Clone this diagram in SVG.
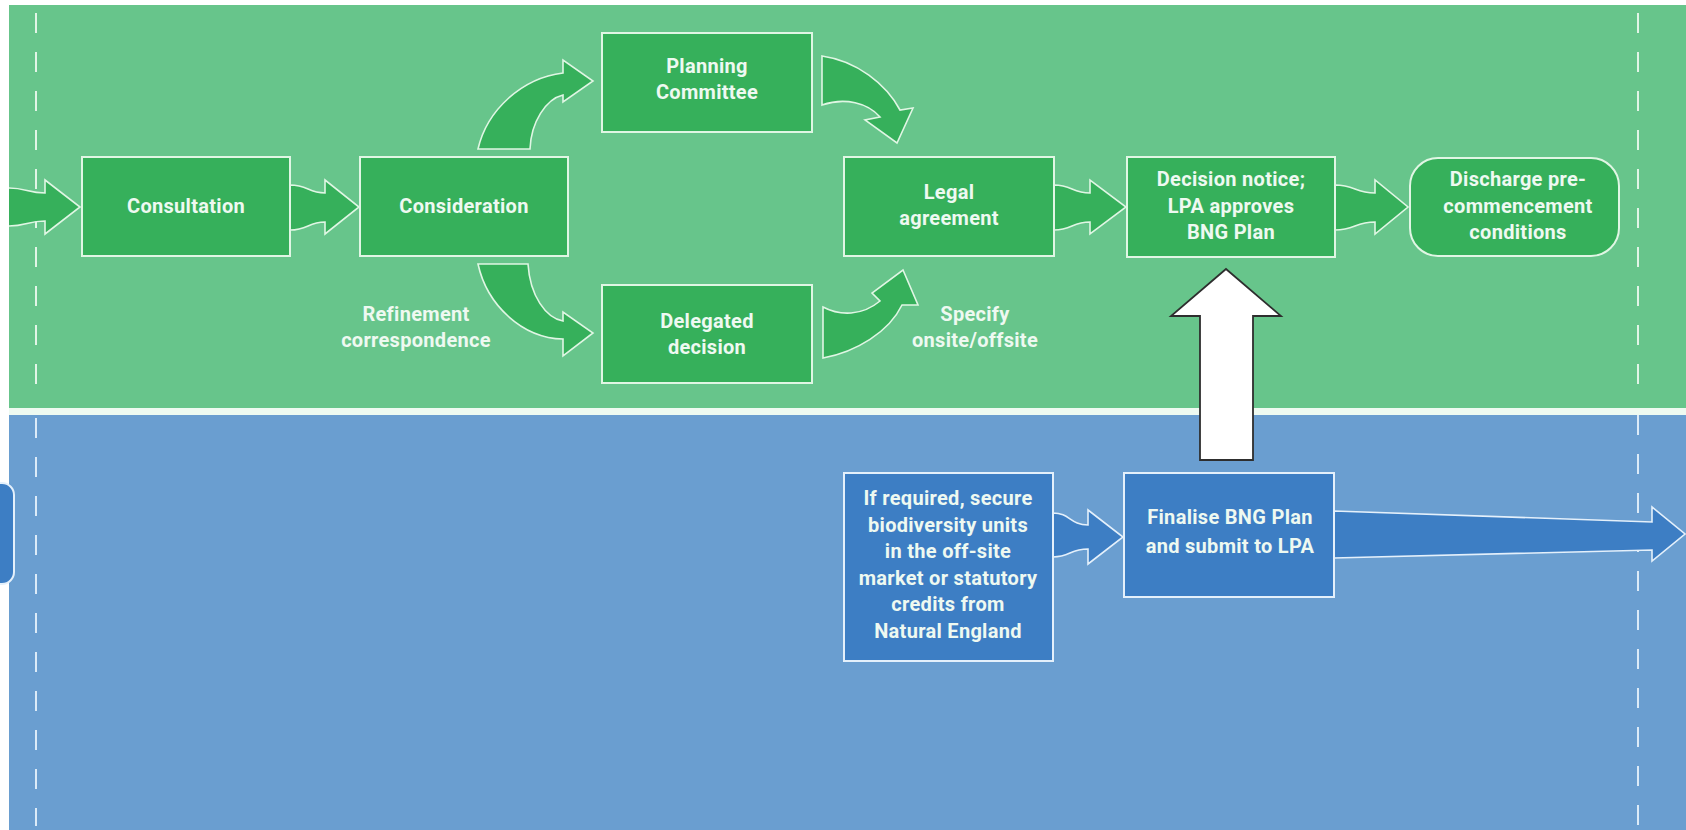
<svg xmlns="http://www.w3.org/2000/svg" width="1686" height="830" viewBox="0 0 1686 830">
  <style>
    .lane-g { fill: #67c58b; }
    .lane-b { fill: #6a9ed0; }
    .divider-g { stroke: #e2f5e7; stroke-width: 2; stroke-dasharray: 20 19; fill: none; }
    .divider-b { stroke: #dcebf8; stroke-width: 2; stroke-dasharray: 20 19; fill: none; }
    .box-g { fill: #36b05b; stroke: #e0f6e4; stroke-width: 2; }
    .box-b { fill: #3d7ec4; stroke: #e4f0fb; stroke-width: 2; }
    .arr-g { fill: #36b05b; stroke: #e0f6e4; stroke-width: 1.6; stroke-linejoin: miter; }
    .arr-b { fill: #3d7ec4; stroke: #e4f0fb; stroke-width: 1.6; stroke-linejoin: miter; }
    .arr-w { fill: #ffffff; stroke: #2e2e2e; stroke-width: 1.8; }
    text { font-family: Roboto, "Liberation Sans", sans-serif; font-weight: 700; font-size: 20px; letter-spacing: 0.3px; fill: #eef9f1; text-anchor: middle; }
  </style>

  <!-- page -->
  <rect x="0" y="0" width="1686" height="830" fill="#ffffff"/>

  <!-- swimlanes -->
  <g id="lanes">
    <rect class="lane-g" x="9" y="5" width="1677" height="403"/>
    <rect x="9" y="408" width="1677" height="7" fill="#eefaf1"/>
    <rect class="lane-b" x="9" y="415" width="1677" height="415"/>
    <line class="divider-g" x1="36" y1="13" x2="36" y2="400"/>
    <line class="divider-g" x1="1638" y1="13" x2="1638" y2="400"/>
    <line class="divider-b" x1="36" y1="418" x2="36" y2="826"/>
    <line class="divider-b" x1="1638" y1="415" x2="1638" y2="826"/>
  </g>

  <!-- connectors -->
  <g id="connectors">
    <!-- incoming from previous stage -->
    <path class="arr-g" d="M 9,188 C 26,188 28,193 45,193 L 45,180 L 80,207 L 45,234 L 45,221 C 28,221 26,226 9,226"/>
    <!-- Consultation to Consideration -->
    <path class="arr-g" d="M 290,185 C 308,185 308,193 325,193 L 325,180 L 359,207 L 325,234 L 325,222 C 308,222 308,230 290,230 Z"/>
    <!-- Consideration up to Planning Committee -->
    <path class="arr-g" d="M 478,149 C 487,110 522,78 563,73 L 563,60 L 593,81 L 563,102 L 563,95 C 546,99 531,122 530,149 Z"/>
    <!-- Consideration down to Delegated decision -->
    <path class="arr-g" d="M 478,264 C 487,305 522,338 563,339 L 563,356 L 593,333 L 563,312 L 563,321 C 546,318 530,296 528,264 Z"/>
    <!-- Planning Committee to Legal agreement -->
    <path class="arr-g" d="M 822,56 L 822,105 C 845,97 868,103 880,117 L 865,120 L 897,143 L 913,108 L 900,110 C 886,84 857,61 822,56 Z"/>
    <!-- Delegated decision to Legal agreement -->
    <path class="arr-g" d="M 823,307 L 823,358 C 856,352 889,332 902,305 L 918,305 L 903,270 L 872,293 L 880,301 C 862,316 840,316 823,307 Z"/>
    <!-- Legal agreement to Decision notice -->
    <path class="arr-g" d="M 1054,185 C 1072,185 1072,193 1090,193 L 1090,180 L 1126,207 L 1090,234 L 1090,222 C 1072,222 1072,230 1054,230 Z"/>
    <!-- Decision notice to Discharge -->
    <path class="arr-g" d="M 1335,185 C 1355,185 1355,193 1375,193 L 1375,180 L 1408,207 L 1375,234 L 1375,222 C 1355,222 1355,230 1335,230 Z"/>
    <!-- off-site units to Finalise -->
    <path class="arr-b" d="M 1053,513 C 1070,513 1070,525 1088,525 L 1088,510 L 1123,537 L 1088,564 L 1088,549 C 1070,549 1070,557 1053,557 Z"/>
    <!-- Finalise onwards -->
    <path class="arr-b" d="M 1334,511 L 1652,522 L 1652,507 L 1685,534 L 1652,561 L 1652,550 L 1334,558 Z"/>
    <!-- submission up to LPA approval -->
    <path class="arr-w" d="M 1200,460 L 1200,316 L 1171,316 L 1226,269 L 1281,316 L 1253,316 L 1253,460 Z"/>
  </g>

  <!-- previous-stage box cut by the page edge -->
  <g id="prev-blue"><rect class="box-b" x="-40" y="483" width="54" height="101" rx="12"/></g>

  <g id="consultation">
    <rect class="box-g" x="82" y="157" width="208" height="99"/>
    <text x="186" y="213">Consultation</text>
  </g>

  <g id="consideration">
    <rect class="box-g" x="360" y="157" width="208" height="99"/>
    <text x="464" y="213">Consideration</text>
  </g>

  <g id="refinement-label">
    <text x="416" y="321">Refinement</text>
    <text x="416" y="347">correspondence</text>
  </g>

  <g id="planning-committee">
    <rect class="box-g" x="602" y="33" width="210" height="99"/>
    <text x="707" y="73">Planning</text>
    <text x="707" y="99">Committee</text>
  </g>

  <g id="delegated-decision">
    <rect class="box-g" x="602" y="285" width="210" height="98"/>
    <text x="707" y="328">Delegated</text>
    <text x="707" y="354">decision</text>
  </g>

  <g id="legal-agreement">
    <rect class="box-g" x="844" y="157" width="210" height="99"/>
    <text x="949" y="199">Legal</text>
    <text x="949" y="225">agreement</text>
  </g>

  <g id="specify-label">
    <text x="975" y="321">Specify</text>
    <text x="975" y="347">onsite/offsite</text>
  </g>

  <g id="decision-notice">
    <rect class="box-g" x="1127" y="157" width="208" height="100"/>
    <text x="1231" y="186">Decision notice;</text>
    <text x="1231" y="213">LPA approves</text>
    <text x="1231" y="239">BNG Plan</text>
  </g>

  <g id="discharge">
    <rect class="box-g" x="1410" y="158" width="209" height="98" rx="28"/>
    <text x="1518" y="186">Discharge pre-</text>
    <text x="1518" y="213">commencement</text>
    <text x="1518" y="239">conditions</text>
  </g>

  <g id="offsite-units">
    <rect class="box-b" x="844" y="473" width="209" height="188"/>
    <text x="948" y="505">If required, secure</text>
    <text x="948" y="532">biodiversity units</text>
    <text x="948" y="558">in the off-site</text>
    <text x="948" y="585">market or statutory</text>
    <text x="948" y="611">credits from</text>
    <text x="948" y="638">Natural England</text>
  </g>

  <g id="finalise-plan">
    <rect class="box-b" x="1124" y="473" width="210" height="124"/>
    <text x="1230" y="524">Finalise BNG Plan</text>
    <text x="1230" y="553">and submit to LPA</text>
  </g>
</svg>
